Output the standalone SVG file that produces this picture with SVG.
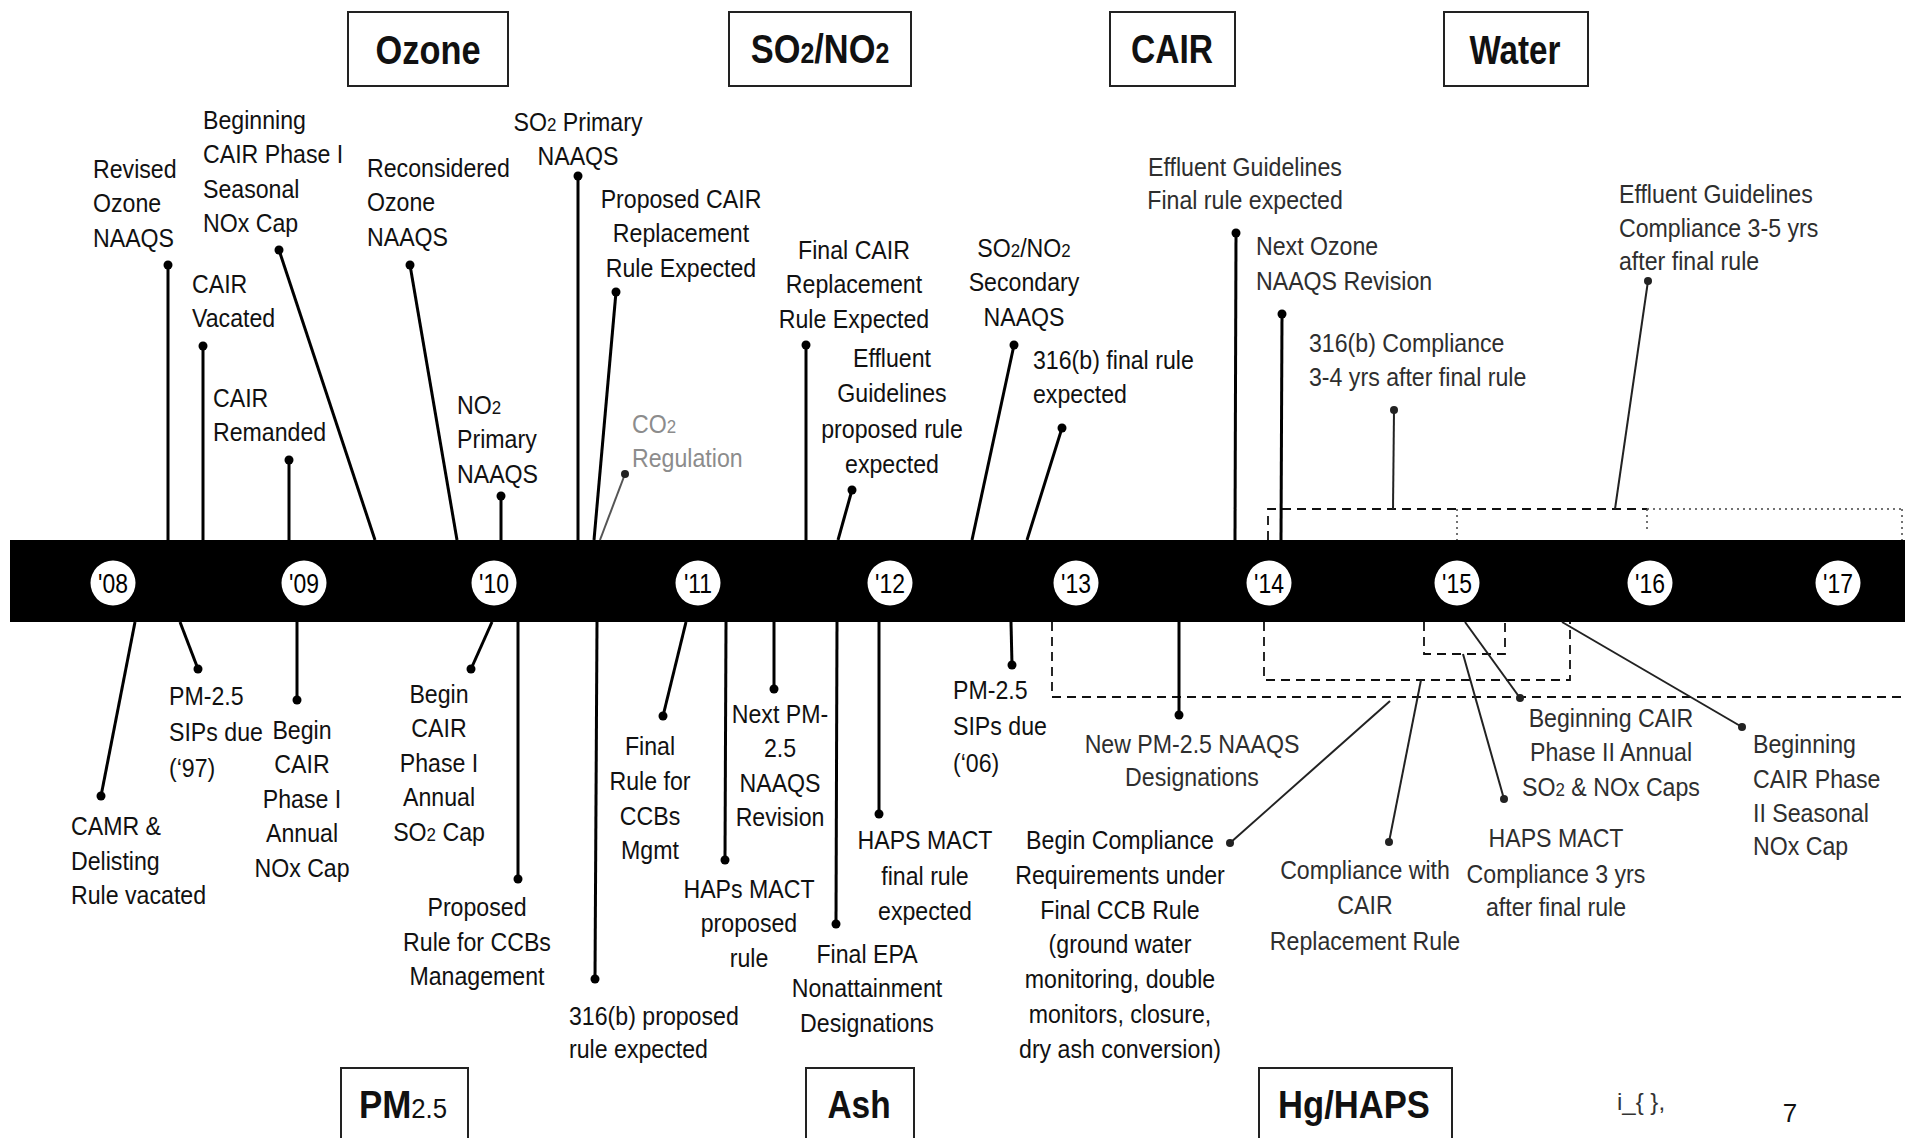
<svg xmlns="http://www.w3.org/2000/svg" width="1905" height="1138" viewBox="0 0 1905 1138">
<style>
.lbl{font-family:"Liberation Sans",Arial,sans-serif;font-size:26px;fill:#111}
.g{fill:#2e2e2e}
.f{fill:#8c8c8c}
.mid{text-anchor:middle}
.sub{font-size:19px}
.ttl{font-family:"Liberation Sans",Arial,sans-serif;font-weight:bold;font-size:40px;fill:#111;text-anchor:middle}
.ttlb{font-size:38px}
.box{fill:#fff;stroke:#222;stroke-width:2}
.yr circle{fill:#fff}
.yr text{font-family:"Liberation Sans",Arial,sans-serif;font-size:27px;text-anchor:middle;fill:#000}
.c{stroke:#000;stroke-width:3;fill:none;marker-start:url(#dot)}
.cg{stroke:#222;stroke-width:2;fill:none;marker-start:url(#dotg)}
.cf{stroke:#555;stroke-width:2;fill:none;marker-start:url(#dotg)}
.dash{stroke:#111;stroke-width:1.8;fill:none;stroke-dasharray:9 6}
.dotl{stroke:#444;stroke-width:1.5;fill:none;stroke-dasharray:2 4}
</style>
<defs>
<marker id="dot" markerWidth="10" markerHeight="10" refX="5" refY="5" markerUnits="userSpaceOnUse"><circle cx="5" cy="5" r="4.5" fill="#000"/></marker>
<marker id="dotg" markerWidth="10" markerHeight="10" refX="5" refY="5" markerUnits="userSpaceOnUse"><circle cx="5" cy="5" r="4" fill="#222"/></marker>
</defs>
<rect width="1905" height="1138" fill="#fff"/>

<!-- timeline bar -->
<rect id="bar" x="10" y="540" width="1895" height="82" fill="#000"/>

<!-- dashed grouping lines -->
<g id="brackets">
<path class="dash" d="M1268,540 V509 H1647"/>
<path class="dotl" d="M1647,509 H1905 M1457,509 V540 M1647,509 V530 M1902,509 V540"/>
<path class="dash" d="M1052,622 V697 H1905"/>
<path class="dash" d="M1264,622 V680 H1570 V622"/>
<path class="dash" d="M1424,622 V654 H1505 V622"/>
</g>

<!-- connectors -->
<g id="connectors">
<path class="c" d="M168,265 L168,540"/>
<path class="c" d="M279,250 L375,540"/>
<path class="c" d="M203,346 L203,540"/>
<path class="c" d="M289,460 L289,540"/>
<path class="c" d="M410,265 L457,540"/>
<path class="c" d="M501,496 L501,540"/>
<path class="c" d="M578,176 L578,540"/>
<path class="c" d="M616,292 L594,540"/>
<path class="cf" d="M625,474 L600,540"/>
<path class="c" d="M806,345 L806,540"/>
<path class="c" d="M852,490 L838,540"/>
<path class="c" d="M1014,345 L972,540"/>
<path class="c" d="M1062,428 L1027,540"/>
<path class="c" d="M1236,233 L1235,540"/>
<path class="c" d="M1282,314 L1281,540"/>
<path class="cg" d="M1394,410 L1393,509"/>
<path class="cg" d="M1648,281 L1615,509"/>

<path class="c" d="M101,796 L135,622"/>
<path class="c" d="M198,669 L180,622"/>
<path class="c" d="M297,700 L297,622"/>
<path class="c" d="M471,669 L492,622"/>
<path class="c" d="M518,879 L518,622"/>
<path class="c" d="M595,979 L597,622"/>
<path class="c" d="M663,716 L686,622"/>
<path class="c" d="M725,860 L726,622"/>
<path class="c" d="M774,689 L774,622"/>
<path class="c" d="M836,924 L837,622"/>
<path class="c" d="M879,814 L879,622"/>
<path class="c" d="M1012,665 L1011,622"/>
<path class="c" d="M1179,715 L1179,622"/>
<path class="cg" d="M1230,843 L1390,701"/>
<path class="cg" d="M1389,842 L1421,680"/>
<path class="cg" d="M1504,799 L1463,654"/>
<path class="cg" d="M1520,698 L1465,622"/>
<path class="cg" d="M1742,727 L1562,622"/>
</g>

<!-- year markers -->
<g class="yr">
<g id="y08" transform="translate(113,583)"><circle r="22.5"/><text transform="scale(0.85,1)" y="10">'08</text></g>
<g id="y09" transform="translate(304,583)"><circle r="22.5"/><text transform="scale(0.85,1)" y="10">'09</text></g>
<g id="y10" transform="translate(494,583)"><circle r="22.5"/><text transform="scale(0.85,1)" y="10">'10</text></g>
<g id="y11" transform="translate(698,583)"><circle r="22.5"/><text transform="scale(0.85,1)" y="10">'11</text></g>
<g id="y12" transform="translate(890,583)"><circle r="22.5"/><text transform="scale(0.85,1)" y="10">'12</text></g>
<g id="y13" transform="translate(1076,583)"><circle r="22.5"/><text transform="scale(0.85,1)" y="10">'13</text></g>
<g id="y14" transform="translate(1269,583)"><circle r="22.5"/><text transform="scale(0.85,1)" y="10">'14</text></g>
<g id="y15" transform="translate(1457,583)"><circle r="22.5"/><text transform="scale(0.85,1)" y="10">'15</text></g>
<g id="y16" transform="translate(1650,583)"><circle r="22.5"/><text transform="scale(0.85,1)" y="10">'16</text></g>
<g id="y17" transform="translate(1838,583)"><circle r="22.5"/><text transform="scale(0.85,1)" y="10">'17</text></g>
</g>

<!-- top labels -->
<g id="t1" transform="translate(93,178) scale(0.89,1)"><text class="lbl"><tspan x="0" y="0">Revised</tspan><tspan x="0" y="34.5">Ozone</tspan><tspan x="0" y="69">NAAQS</tspan></text></g>
<g id="t2" transform="translate(203,129) scale(0.89,1)"><text class="lbl"><tspan x="0" y="0">Beginning</tspan><tspan x="0" y="34.5">CAIR Phase I</tspan><tspan x="0" y="69">Seasonal</tspan><tspan x="0" y="103.5">NOx Cap</tspan></text></g>
<g id="t3" transform="translate(192,293) scale(0.89,1)"><text class="lbl"><tspan x="0" y="0">CAIR</tspan><tspan x="0" y="34.5">Vacated</tspan></text></g>
<g id="t4" transform="translate(213,407) scale(0.89,1)"><text class="lbl"><tspan x="0" y="0">CAIR</tspan><tspan x="0" y="34.5">Remanded</tspan></text></g>
<g id="t5" transform="translate(367,177) scale(0.89,1)"><text class="lbl"><tspan x="0" y="0">Reconsidered</tspan><tspan x="0" y="34.5">Ozone</tspan><tspan x="0" y="69">NAAQS</tspan></text></g>
<g id="t6" transform="translate(457,414) scale(0.89,1)"><text class="lbl"><tspan x="0" y="0">NO<tspan class="sub">2</tspan></tspan><tspan x="0" y="34.5">Primary</tspan><tspan x="0" y="69">NAAQS</tspan></text></g>
<g id="t7" transform="translate(578,131) scale(0.89,1)"><text class="lbl mid"><tspan x="0" y="0">SO<tspan class="sub">2</tspan> Primary</tspan><tspan x="0" y="34">NAAQS</tspan></text></g>
<g id="t8" transform="translate(681,208) scale(0.89,1)"><text class="lbl mid"><tspan x="0" y="0">Proposed CAIR</tspan><tspan x="0" y="34.5">Replacement</tspan><tspan x="0" y="69">Rule Expected</tspan></text></g>
<g id="t9" transform="translate(632,433) scale(0.89,1)"><text class="lbl f"><tspan x="0" y="0">CO<tspan class="sub">2</tspan></tspan><tspan x="0" y="34">Regulation</tspan></text></g>
<g id="t10" transform="translate(854,259) scale(0.89,1)"><text class="lbl mid"><tspan x="0" y="0">Final CAIR</tspan><tspan x="0" y="34.5">Replacement</tspan><tspan x="0" y="69">Rule Expected</tspan></text></g>
<g id="t11" transform="translate(892,367) scale(0.89,1)"><text class="lbl mid"><tspan x="0" y="0">Effluent</tspan><tspan x="0" y="35">Guidelines</tspan><tspan x="0" y="71">proposed rule</tspan><tspan x="0" y="106">expected</tspan></text></g>
<g id="t12" transform="translate(1024,257) scale(0.89,1)"><text class="lbl mid"><tspan x="0" y="0">SO<tspan class="sub">2</tspan>/NO<tspan class="sub">2</tspan></tspan><tspan x="0" y="34.5">Secondary</tspan><tspan x="0" y="69">NAAQS</tspan></text></g>
<g id="t13" transform="translate(1033,369) scale(0.89,1)"><text class="lbl"><tspan x="0" y="0">316(b) final rule</tspan><tspan x="0" y="34">expected</tspan></text></g>
<g id="t14" transform="translate(1245,176) scale(0.89,1)"><text class="lbl mid g"><tspan x="0" y="0">Effluent Guidelines</tspan><tspan x="0" y="33">Final rule expected</tspan></text></g>
<g id="t15" transform="translate(1256,255) scale(0.89,1)"><text class="lbl g"><tspan x="0" y="0">Next Ozone</tspan><tspan x="0" y="35">NAAQS Revision</tspan></text></g>
<g id="t16" transform="translate(1309,352) scale(0.89,1)"><text class="lbl g"><tspan x="0" y="0">316(b) Compliance</tspan><tspan x="0" y="34">3-4 yrs after final rule</tspan></text></g>
<g id="t17" transform="translate(1619,203) scale(0.89,1)"><text class="lbl g"><tspan x="0" y="0">Effluent Guidelines</tspan><tspan x="0" y="34">Compliance 3-5 yrs</tspan><tspan x="0" y="67">after final rule</tspan></text></g>

<!-- bottom labels -->
<g id="b1" transform="translate(71,835) scale(0.89,1)"><text class="lbl"><tspan x="0" y="0">CAMR &amp;</tspan><tspan x="0" y="35">Delisting</tspan><tspan x="0" y="69">Rule vacated</tspan></text></g>
<g id="b2" transform="translate(169,705) scale(0.89,1)"><text class="lbl"><tspan x="0" y="0">PM-2.5</tspan><tspan x="0" y="36">SIPs due</tspan><tspan x="0" y="72">(‘97)</tspan></text></g>
<g id="b3" transform="translate(302,739) scale(0.89,1)"><text class="lbl mid"><tspan x="0" y="0">Begin</tspan><tspan x="0" y="34.5">CAIR</tspan><tspan x="0" y="69">Phase I</tspan><tspan x="0" y="103.5">Annual</tspan><tspan x="0" y="138">NOx Cap</tspan></text></g>
<g id="b4" transform="translate(439,703) scale(0.89,1)"><text class="lbl mid"><tspan x="0" y="0">Begin</tspan><tspan x="0" y="34.5">CAIR</tspan><tspan x="0" y="69">Phase I</tspan><tspan x="0" y="103.5">Annual</tspan><tspan x="0" y="138">SO<tspan class="sub">2</tspan> Cap</tspan></text></g>
<g id="b5" transform="translate(477,916) scale(0.89,1)"><text class="lbl mid"><tspan x="0" y="0">Proposed</tspan><tspan x="0" y="35">Rule for CCBs</tspan><tspan x="0" y="69">Management</tspan></text></g>
<g id="b6" transform="translate(569,1025) scale(0.89,1)"><text class="lbl"><tspan x="0" y="0">316(b) proposed</tspan><tspan x="0" y="33">rule expected</tspan></text></g>
<g id="b7" transform="translate(650,755) scale(0.89,1)"><text class="lbl mid"><tspan x="0" y="0">Final</tspan><tspan x="0" y="35">Rule for</tspan><tspan x="0" y="70">CCBs</tspan><tspan x="0" y="104">Mgmt</tspan></text></g>
<g id="b8" transform="translate(749,898) scale(0.89,1)"><text class="lbl mid"><tspan x="0" y="0">HAPs MACT</tspan><tspan x="0" y="34">proposed</tspan><tspan x="0" y="69">rule</tspan></text></g>
<g id="b9" transform="translate(780,723) scale(0.89,1)"><text class="lbl mid"><tspan x="0" y="0">Next PM-</tspan><tspan x="0" y="34.5">2.5</tspan><tspan x="0" y="69">NAAQS</tspan><tspan x="0" y="103.5">Revision</tspan></text></g>
<g id="b10" transform="translate(867,963) scale(0.89,1)"><text class="lbl mid"><tspan x="0" y="0">Final EPA</tspan><tspan x="0" y="34.5">Nonattainment</tspan><tspan x="0" y="69">Designations</tspan></text></g>
<g id="b11" transform="translate(925,849) scale(0.89,1)"><text class="lbl mid"><tspan x="0" y="0">HAPS MACT</tspan><tspan x="0" y="36">final rule</tspan><tspan x="0" y="71">expected</tspan></text></g>
<g id="b12" transform="translate(953,699) scale(0.89,1)"><text class="lbl"><tspan x="0" y="0">PM-2.5</tspan><tspan x="0" y="36">SIPs due</tspan><tspan x="0" y="73">(‘06)</tspan></text></g>
<g id="b13" transform="translate(1192,753) scale(0.89,1)"><text class="lbl mid g"><tspan x="0" y="0">New PM-2.5 NAAQS</tspan><tspan x="0" y="33">Designations</tspan></text></g>
<g id="b14" transform="translate(1120,849) scale(0.89,1)"><text class="lbl mid"><tspan x="0" y="0">Begin Compliance</tspan><tspan x="0" y="34.8">Requirements under</tspan><tspan x="0" y="69.6">Final CCB Rule</tspan><tspan x="0" y="104.4">(ground water</tspan><tspan x="0" y="139.2">monitoring, double</tspan><tspan x="0" y="174">monitors, closure,</tspan><tspan x="0" y="208.8">dry ash conversion)</tspan></text></g>
<g id="b15" transform="translate(1365,879) scale(0.89,1)"><text class="lbl mid g"><tspan x="0" y="0">Compliance with</tspan><tspan x="0" y="35">CAIR</tspan><tspan x="0" y="71">Replacement Rule</tspan></text></g>
<g id="b16" transform="translate(1556,847) scale(0.89,1)"><text class="lbl mid g"><tspan x="0" y="0">HAPS MACT</tspan><tspan x="0" y="36">Compliance 3 yrs</tspan><tspan x="0" y="69">after final rule</tspan></text></g>
<g id="b17" transform="translate(1611,727) scale(0.89,1)"><text class="lbl mid g"><tspan x="0" y="0">Beginning CAIR</tspan><tspan x="0" y="34">Phase II Annual</tspan><tspan x="0" y="69">SO<tspan class="sub">2</tspan> &amp; NOx Caps</tspan></text></g>
<g id="b18" transform="translate(1753,753) scale(0.89,1)"><text class="lbl g"><tspan x="0" y="0">Beginning</tspan><tspan x="0" y="35">CAIR Phase</tspan><tspan x="0" y="69">II Seasonal</tspan><tspan x="0" y="102">NOx Cap</tspan></text></g>

<!-- category boxes -->
<g id="cat-ozone"><rect class="box" x="348" y="12" width="160" height="74"/><text class="ttl" transform="translate(428,64) scale(0.86,1)">Ozone</text></g>
<g id="cat-so2no2"><rect class="box" x="729" y="12" width="182" height="74"/><text class="ttl" transform="translate(820,63) scale(0.86,1)">SO<tspan font-size="29">2</tspan>/NO<tspan font-size="29">2</tspan></text></g>
<g id="cat-cair"><rect class="box" x="1110" y="12" width="125" height="74"/><text class="ttl" transform="translate(1172,63) scale(0.84,1)">CAIR</text></g>
<g id="cat-water"><rect class="box" x="1444" y="12" width="144" height="74"/><text class="ttl" transform="translate(1515,64) scale(0.83,1)">Water</text></g>
<g id="cat-pm25"><rect class="box" x="341" y="1068" width="127" height="90"/><text class="ttl ttlb" transform="translate(403,1118) scale(0.92,1)">PM<tspan font-size="28" font-weight="normal">2.5</tspan></text></g>
<g id="cat-ash"><rect class="box" x="806" y="1068" width="108" height="90"/><text class="ttl ttlb" transform="translate(859,1118) scale(0.88,1)">Ash</text></g>
<g id="cat-hghaps"><rect class="box" x="1259" y="1068" width="193" height="90"/><text class="ttl ttlb" transform="translate(1354,1118) scale(0.91,1)">Hg/HAPS</text></g>

<!-- footer -->
<g id="footer">
<text x="1617" y="1110" font-family="Liberation Sans, Arial, sans-serif" font-size="24" fill="#333">i_{ },</text>
<text x="1790" y="1122" font-family="Liberation Sans, Arial, sans-serif" font-size="26" fill="#111" text-anchor="middle">7</text>
</g>
</svg>
